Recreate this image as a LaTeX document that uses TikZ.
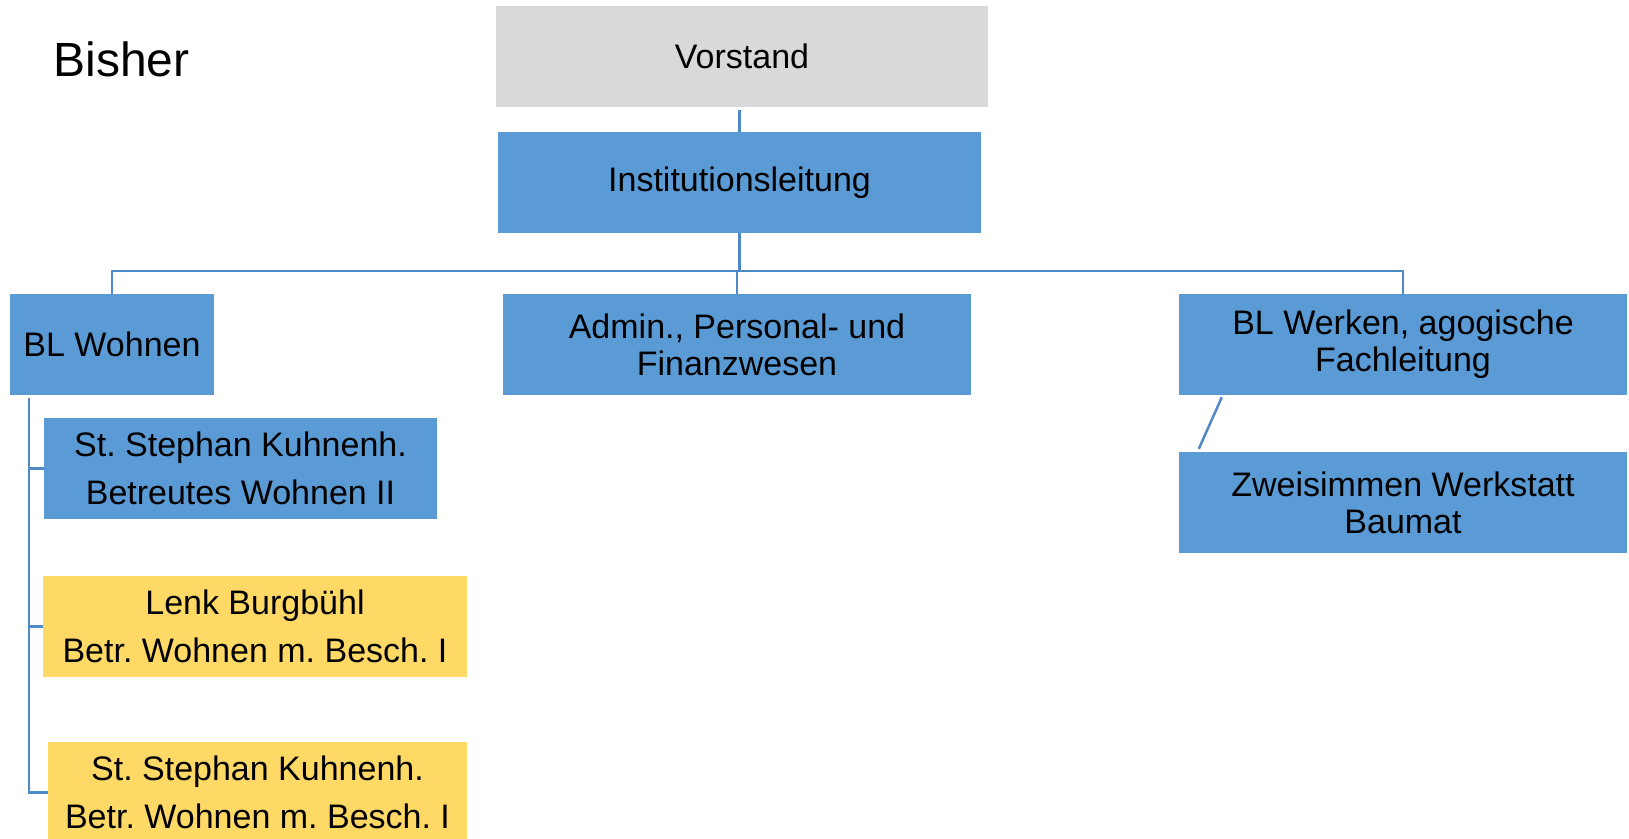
\documentclass[tikz,border=0pt]{standalone}
\usepackage{fontspec}
\setmainfont{Liberation Sans}
\usepackage{tikz}
\usetikzlibrary{calc}
\definecolor{boxblue}{HTML}{5B9BD5}
\definecolor{boxgray}{HTML}{D9D9D9}
\definecolor{boxyellow}{HTML}{FFD966}
\definecolor{linkblue}{HTML}{5089C8}
\frenchspacing
\tikzset{
    box/.style={fill=boxblue, inner sep=0pt, minimum height=101pt, align=center,
        font=\fontsize{34}{37}\selectfont},
    widebox/.style={box, font=\fontsize{34}{48}\selectfont},
    link/.style={draw=linkblue, line width=2.5pt}
}

\begin{document}
\begin{tikzpicture}[x=1pt,y=-1pt]
            \clip (0,0) rectangle (1629,838);
            \useasboundingbox (0,0) rectangle (1629,838);

            \node[anchor=west, font=\fontsize{48}{50}\selectfont] (bisher) at (50,59) {Bisher};

            \node[box, fill=boxgray, minimum width=492pt] (vor) at (742,56.5) {Vorstand};
            \node[box, minimum width=483pt] (inst) at (739.5,182.5) {Institutionsleitung};
            \node[box, minimum width=204pt] (wohn) at (112,344.5) {BL Wohnen};
            \node[box, minimum width=468pt] (adm) at (737,344.5) {Admin., Personal- und\\Finanzwesen};
            \node[box, minimum width=448pt] (werk) at (1403,344.5) {BL Werken, agogische\\Fachleitung};
            \node[box, minimum width=448pt] (zwei) at (1403,502.5) {Zweisimmen Werkstatt\\Baumat};
            \node[widebox, minimum width=393pt] (st1) at (240.5,468.5) {St. Stephan Kuhnenh.\\Betreutes Wohnen II};
            \node[widebox, fill=boxyellow, minimum width=424pt] (lenk) at (255,626.5) {Lenk Burgbühl\\Betr. Wohnen m. Besch. I};
            \node[widebox, fill=boxyellow, minimum width=419pt] (st2) at (257.5,792.5) {St. Stephan Kuhnenh.\\Betr. Wohnen m. Besch. I};

            \coordinate (bus) at (0,271);
            \coordinate (spine) at ($(wohn.south west)+(19,3)$);

            \draw[link] (inst.north) -- ($(inst.north |- vor.south)+(0,3)$);
            \draw[link] (inst.south) -- (inst.south |- bus);
            \draw[link] (wohn.north) -- (wohn.north |- bus) -- (werk.north |- bus) -- (werk.north);
            \draw[link] (adm.north |- bus) -- (adm.north);

            \draw[link] (spine) |- (st2.west);
            \foreach \b in {st1,lenk} {
                \draw[link] (spine |- \b.west) -- (\b.west);
            }

            \draw[link] ($(werk.south west)+(43,2)$) -- ($(zwei.north west)+(20,-3)$);
        \end{tikzpicture}
\end{document}
